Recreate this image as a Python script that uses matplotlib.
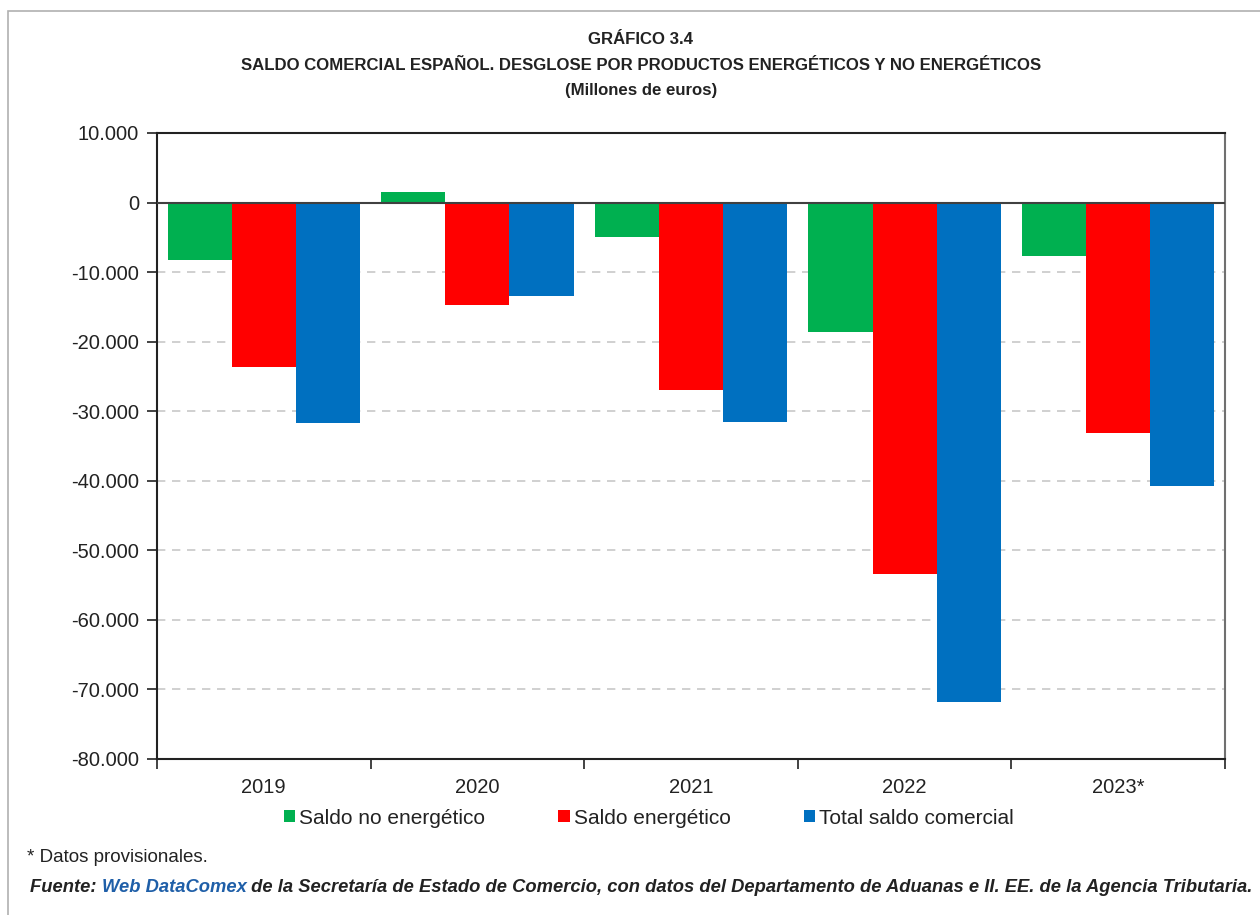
import numpy as np
import matplotlib
matplotlib.use('Agg')
import matplotlib.pyplot as plt
from matplotlib.patches import Rectangle
from matplotlib.font_manager import findfont, FontProperties

plt.rcParams['font.family'] = ['Liberation Sans', 'DejaVu Sans']

years = ['2019', '2020', '2021', '2022', '2023*']
saldo_no_energetico = [-8300, 1450, -4900, -18550, -7750]
saldo_energetico = [-23700, -14800, -27000, -53350, -33200]
total_saldo = [-31750, -13500, -31600, -71750, -40700]

series_names = ['Saldo no energético', 'Saldo energético', 'Total saldo comercial']
colors = ['#00B050', '#FF0000', '#0070C0']

# narrow font for title / source if available
narrow = 'Liberation Sans Narrow'
try:
    findfont(FontProperties(family=narrow), fallback_to_default=False)
    title_fs, src_fs = 14, 15
except Exception:
    narrow = 'Liberation Sans'
    title_fs, src_fs = 12.1, 13.25

fig = plt.figure(figsize=(12.6, 9.15), dpi=100)
ax = fig.add_axes([157 / 1260, 1 - 759 / 915, (1225 - 157) / 1260, (759 - 133) / 915])

# figure border
fig.patches.append(Rectangle((8 / 1260, -0.01), 1.1, 1 - 11 / 915 + 0.01,
                             transform=fig.transFigure, fill=False,
                             edgecolor='#B0B0B0', linewidth=1.2))

x = np.arange(len(years))
w = 0.3
for i, (vals, name, c) in enumerate(zip([saldo_no_energetico, saldo_energetico, total_saldo],
                                        series_names, colors)):
    ax.bar(x + (i - 1) * w, vals, width=w, color=c, label=name, zorder=2)

ax.axhline(0, color='#404040', linewidth=1.5, zorder=3)

ax.set_xlim(-0.5, len(years) - 0.5)
ax.set_ylim(-80000, 10000)
yt = np.arange(-80000, 10001, 10000)
ax.set_yticks(yt)
ax.set_yticklabels(['{:,}'.format(v).replace(',', '.') for v in yt], fontsize=14.5, color='#222222')
for v in yt[1:-2]:
    ax.axhline(v, color='#C8C8C8', linestyle=(0, (5, 4)), linewidth=1.2, zorder=1)

ax.set_xticks(x)
ax.set_xticklabels(years, fontsize=14.5, color='#222222')
ax.tick_params(axis='x', length=0, pad=14)
ax.set_xticks(np.arange(-0.5, len(years), 1), minor=True)
ax.tick_params(axis='x', which='minor', length=7, width=1.2, color='#222222')
ax.tick_params(axis='y', length=7, width=1.2, color='#222222', pad=6)

for s in ['left', 'bottom', 'top']:
    ax.spines[s].set_color('#222222')
    ax.spines[s].set_linewidth(1.5)
ax.spines['right'].set_color('#707070')
ax.spines['right'].set_linewidth(1.5)

leg = fig.legend(loc='center', bbox_to_anchor=(649 / 1260, 1 - 818 / 915), ncol=3,
                 frameon=False, fontsize=15, handlelength=0.55, handleheight=0.55,
                 handletextpad=0.2, columnspacing=3.5)
for t in leg.get_texts():
    t.set_color('#222222')

title_lines = ['GRÁFICO 3.4',
               'SALDO COMERCIAL ESPAÑOL. DESGLOSE POR PRODUCTOS ENERGÉTICOS Y NO ENERGÉTICOS',
               '(Millones de euros)']
for line, ypx in zip(title_lines, [40, 65, 91]):
    fig.text(641 / 1260, 1 - ypx / 915, line, ha='center', va='center',
             fontsize=title_fs, fontweight='bold', family=narrow, color='#222222')

fig.text(27 / 1260, 1 - 857 / 915, '* Datos provisionales.', ha='left', va='center',
         fontsize=13.5, color='#222222')

# source line with coloured link part
parts = [('Fuente: ', '#222222'), ('Web DataComex', '#1F5FA8'),
         (' de la Secretaría de Estado de Comercio, con datos del Departamento de Aduanas e II. EE. de la Agencia Tributaria.', '#222222')]
fig.canvas.draw()
r = fig.canvas.get_renderer()
xpos = 30 / 1260
for txt, col in parts:
    t = fig.text(xpos, 1 - 887 / 915, txt, ha='left', va='center', fontsize=src_fs,
                 fontweight='bold', fontstyle='italic', family=narrow, color=col)
    bb = t.get_window_extent(renderer=r)
    xpos += bb.width / fig.bbox.width

fig.savefig('out.png', dpi=100)
